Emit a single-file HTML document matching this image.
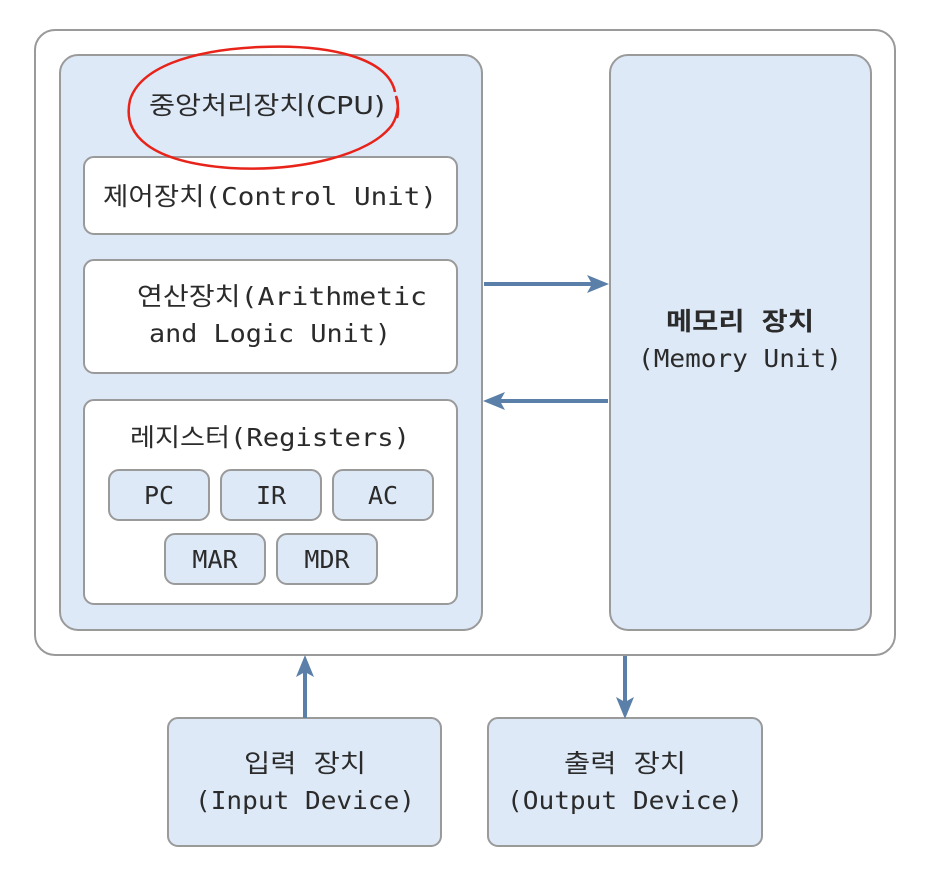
<!DOCTYPE html>
<html><head><meta charset="utf-8"><style>
html,body{margin:0;padding:0;background:#fff;}
svg{display:block;}
text{font-family:"DejaVu Sans Mono","Noto Sans CJK KR",monospace;fill:#2b2b2b;font-size:25px;}
</style></head><body>
<svg width="930" height="870" viewBox="0 0 930 870" xmlns="http://www.w3.org/2000/svg">
<rect x="35" y="30" width="860" height="625" rx="20" fill="#fff" stroke="#9a9a9a" stroke-width="2"/>
<rect x="60" y="55" width="422" height="575" rx="18" fill="#dde9f7" stroke="#9a9a9a" stroke-width="2"/>
<rect x="610" y="55" width="261" height="575" rx="18" fill="#dde9f7" stroke="#9a9a9a" stroke-width="2"/>
<rect x="84" y="157" width="373" height="77" rx="10" fill="#fff" stroke="#9a9a9a" stroke-width="2"/>
<rect x="84" y="260" width="373" height="113" rx="10" fill="#fff" stroke="#9a9a9a" stroke-width="2"/>
<rect x="84" y="400" width="373" height="204" rx="10" fill="#fff" stroke="#9a9a9a" stroke-width="2"/>
<g fill="#dde9f7" stroke="#9a9a9a" stroke-width="2">
<rect x="109" y="470" width="100" height="50" rx="10"/>
<rect x="221" y="470" width="100" height="50" rx="10"/>
<rect x="333" y="470" width="100" height="50" rx="10"/>
<rect x="165" y="534" width="100" height="50" rx="10"/>
<rect x="277" y="534" width="100" height="50" rx="10"/>
<rect x="168" y="718" width="273" height="128" rx="10"/>
<rect x="488" y="718" width="274" height="128" rx="10"/>
</g>
<g stroke="#5a7fa8" stroke-width="4" fill="none">
<line x1="484" y1="284" x2="592" y2="284"/>
<line x1="608" y1="401" x2="500" y2="401"/>
<line x1="305" y1="718" x2="305" y2="672"/>
<line x1="625" y1="656" x2="625" y2="702"/>
</g>
<g fill="#5a7fa8">
<polygon points="609,284 587,275 592,284 587,293"/>
<polygon points="483,401 505,392 500,401 505,410"/>
<polygon points="305,655 296,677 305,672 314,677"/>
<polygon points="625,719 616,697 625,702 634,697"/>
</g>
<text x="267" y="114" text-anchor="middle" textLength="236" lengthAdjust="spacingAndGlyphs" style="font-family:'DejaVu Sans','Noto Sans CJK KR',sans-serif">중앙처리장치(CPU)</text>
<text x="270" y="205" text-anchor="middle" textLength="334" lengthAdjust="spacingAndGlyphs">제어장치(Control Unit)</text>
<text x="282" y="305" text-anchor="middle" textLength="290" lengthAdjust="spacingAndGlyphs">연산장치(Arithmetic</text>
<text x="270" y="342" text-anchor="middle" textLength="242" lengthAdjust="spacingAndGlyphs">and Logic Unit)</text>
<text x="270" y="446" text-anchor="middle" textLength="280" lengthAdjust="spacingAndGlyphs">레지스터(Registers)</text>
<text x="159" y="504" text-anchor="middle">PC</text>
<text x="271" y="504" text-anchor="middle">IR</text>
<text x="383" y="504" text-anchor="middle">AC</text>
<text x="215" y="568" text-anchor="middle">MAR</text>
<text x="327" y="568" text-anchor="middle">MDR</text>
<text x="740" y="330" text-anchor="middle" style="font-weight:bold" textLength="148" lengthAdjust="spacingAndGlyphs">메모리 장치</text>
<text x="740" y="367" text-anchor="middle" textLength="204" lengthAdjust="spacingAndGlyphs">(Memory Unit)</text>
<text x="305" y="772" text-anchor="middle" textLength="122" lengthAdjust="spacingAndGlyphs">입력 장치</text>
<text x="305" y="809" text-anchor="middle" textLength="220" lengthAdjust="spacingAndGlyphs">(Input Device)</text>
<text x="625" y="772" text-anchor="middle" textLength="122" lengthAdjust="spacingAndGlyphs">출력 장치</text>
<text x="625" y="809" text-anchor="middle" textLength="236" lengthAdjust="spacingAndGlyphs">(Output Device)</text>
<path d="M395,92 C388,58 330,44 260,47 C190,50 140,68 130,100 C122,135 150,162 230,168 C300,172 370,155 392,125 C400,112 398,100 396,96 C398,105 399,112 397,118" fill="none" stroke="#e8231a" stroke-width="2.5"/>
</svg>
</body></html>
